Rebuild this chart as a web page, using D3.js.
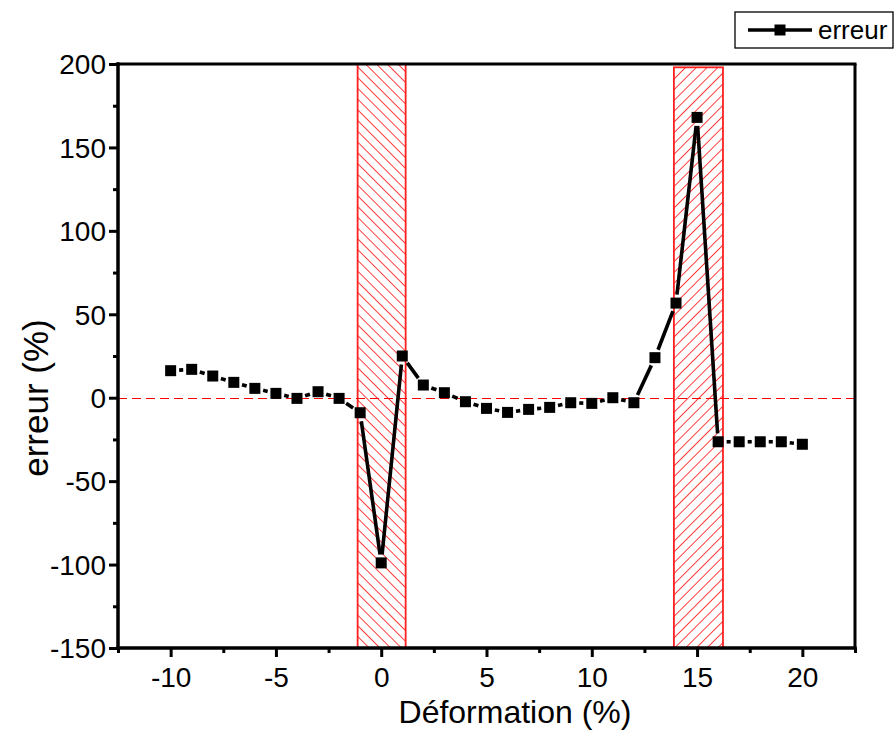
<!DOCTYPE html>
<html>
<head>
<meta charset="utf-8">
<script src="https://cdn.jsdelivr.net/npm/d3@7/dist/d3.min.js"></script>
<style>
html,body{margin:0;padding:0;background:#fff;}
svg{display:block;font-family:"Liberation Sans",Arial,sans-serif;}
</style>
</head>
<body>
<svg id="chart" width="896" height="754"></svg>
<script>
const deformation = [-10,-9,-8,-7,-6,-5,-4,-3,-2,-1,0,1,2,3,4,5,6,7,8,9,10,11,12,13,14,15,16,17,18,19,20];
const erreur = [16.2,17,13,9.2,5.6,2.6,-0.4,3.6,-0.4,-9,-99,25,7.6,3,-2.4,-6.4,-8.8,-7,-5.8,-3,-3.4,0,-3,24,56.7,168,-26.4,-26.4,-26.4,-26.4,-27.9];
const zones = [{x0:-1.12, x1:1.16, y0:-150, y1:200, dir:"back"},{x0:13.9, x1:16.23, y0:-150, y1:198, dir:"fwd"}];
const xTicks = [-10,-5,0,5,10,15,20];
const yTicks = [-150,-100,-50,0,50,100,150,200];
const xTitle = "Déformation (%)";
const yTitle = "erreur (%)";
const legendLabel = "erreur";

const svg = d3.select("#chart");
const L=118, R=855, T=64, B=648;
const x = d3.scaleLinear().domain([-12.5,22.5]).range([L,R]);
const y = d3.scaleLinear().domain([-150,200]).range([B,T]);
const fmt = d => String(d);

const defs = svg.append("defs");
function hatch(id, dir){
  const p = defs.append("pattern").attr("id",id).attr("patternUnits","userSpaceOnUse")
    .attr("width",7.6).attr("height",7.6)
    .attr("patternTransform", dir==="back" ? "rotate(-45)" : "rotate(45)");
  p.append("line").attr("x1",0).attr("y1",0).attr("x2",0).attr("y2",7.6)
    .attr("stroke","#ff0000").attr("stroke-width",1.5);
}
hatch("hb","back"); hatch("hf","fwd");

// zones
svg.selectAll("rect.zone").data(zones).enter().append("rect")
  .attr("x",d=>x(d.x0)).attr("y",d=>y(d.y1))
  .attr("width",d=>x(d.x1)-x(d.x0)).attr("height",d=>y(d.y0)-y(d.y1))
  .attr("fill",d=>d.dir==="back"?"url(#hb)":"url(#hf)")
  .attr("stroke","#ff2020").attr("stroke-width",1.8);

// zero line
const y0 = Math.round(y(0))+0.5;
svg.append("line").attr("x1",L).attr("x2",R).attr("y1",y0).attr("y2",y0)
  .attr("stroke","#ff0000").attr("stroke-width",1.2).attr("stroke-dasharray","9,5");

// data line with gaps around markers
const pts = deformation.map((d,i)=>[x(d),y(erreur[i])]);
const gap = 8.5;
const segs = [];
for(let i=0;i<pts.length-1;i++){
  const [ax,ay]=pts[i],[bx,by]=pts[i+1];
  const dx=bx-ax, dy=by-ay, len=Math.hypot(dx,dy);
  if(len>2*gap){
    const ux=dx/len, uy=dy/len;
    segs.push([ax+ux*gap, ay+uy*gap, bx-ux*gap, by-uy*gap]);
  }
}
svg.selectAll("line.seg").data(segs).enter().append("line")
  .attr("x1",d=>d[0]).attr("y1",d=>d[1]).attr("x2",d=>d[2]).attr("y2",d=>d[3])
  .attr("stroke","#000").attr("stroke-width",3.6);

const ms=11;
svg.selectAll("rect.pt").data(pts).enter().append("rect")
  .attr("x",d=>d[0]-ms/2).attr("y",d=>d[1]-ms/2).attr("width",ms).attr("height",ms).attr("fill","#000");

// frame
svg.append("line").attr("x1",L-1.5).attr("x2",R+1.5).attr("y1",T).attr("y2",T).attr("stroke","#000").attr("stroke-width",3);
svg.append("line").attr("x1",R).attr("x2",R).attr("y1",T).attr("y2",B).attr("stroke","#000").attr("stroke-width",3);

// axes
const xMinor = d3.range(-12.5,23,5);
const yMinor = d3.range(-125,200,50);
const gx = svg.append("g").attr("transform",`translate(0,${B})`);
gx.call(d3.axisBottom(x).tickValues(xTicks).tickSize(9).tickPadding(10).tickFormat(fmt));
gx.append("g").call(d3.axisBottom(x).tickValues(xMinor).tickSize(5).tickFormat(""));
gx.selectAll("path.domain").attr("stroke-width",3).attr("d",`M${L-1.5},0H${R+1.5}`);
gx.selectAll(".tick line").attr("stroke-width",3);
gx.attr("font-family","Liberation Sans, Arial, sans-serif");
gx.selectAll("text").style("font-size","28px").attr("fill","#000");

const gy = svg.append("g").attr("transform",`translate(${L},0)`);
gy.call(d3.axisLeft(y).tickValues(yTicks).tickSize(9).tickPadding(3).tickFormat(fmt));
gy.append("g").call(d3.axisLeft(y).tickValues(yMinor).tickSize(5).tickFormat(""));
gy.selectAll("path.domain").attr("stroke-width",3).attr("d",`M0,${B+1.5}V${T-1.5}`);
gy.selectAll(".tick line").attr("stroke-width",3);
gy.attr("font-family","Liberation Sans, Arial, sans-serif");
gy.selectAll("text").style("font-size","28px").attr("fill","#000").attr("dy","0.35em");

// titles
svg.append("text").attr("x",515).attr("y",723).attr("text-anchor","middle")
  .style("font-size","32px").text(xTitle);
svg.append("text").attr("transform",`translate(48,398) rotate(-90)`).attr("text-anchor","middle")
  .style("font-size","35px").text(yTitle);

// legend
const lg = svg.append("g");
lg.append("rect").attr("x",735).attr("y",12).attr("width",158).attr("height",36)
  .attr("fill","#fff").attr("stroke","#000").attr("stroke-width",1.3);
lg.append("line").attr("x1",748).attr("x2",812).attr("y1",30).attr("y2",30).attr("stroke","#000").attr("stroke-width",3.6);
lg.append("rect").attr("x",780-ms/2).attr("y",30-ms/2).attr("width",ms).attr("height",ms).attr("fill","#000");
lg.append("text").attr("x",818).attr("y",39).style("font-size","26px").text(legendLabel);
</script>
</body>
</html>
